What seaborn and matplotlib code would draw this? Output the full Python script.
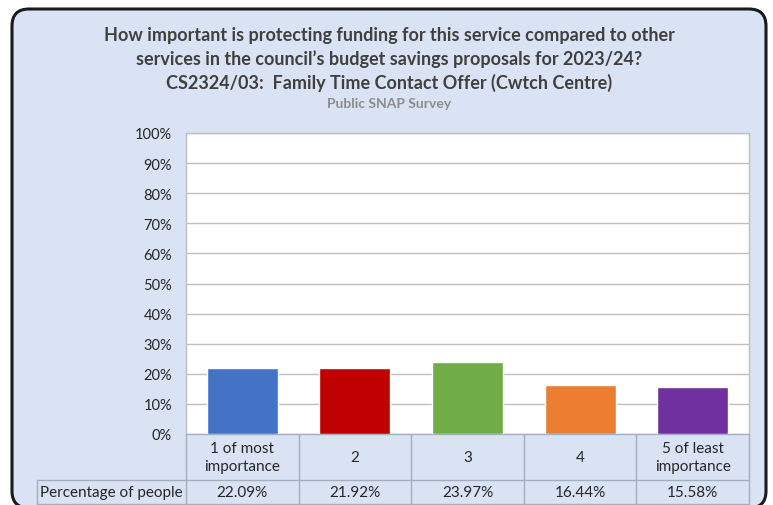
import matplotlib
matplotlib.use("Agg")
import matplotlib.pyplot as plt
import seaborn as sns
import pandas as pd
from matplotlib.patches import FancyBboxPatch
from matplotlib.ticker import PercentFormatter, MultipleLocator

# data
categories = ["1 of most\nimportance", "2", "3", "4", "5 of least\nimportance"]
percentages = [22.09, 21.92, 23.97, 16.44, 15.58]
bar_colors = ["#4472C4", "#C00000", "#70AD47", "#ED7D31", "#7030A0"]
row_label = "Percentage of people"
title_lines = ["How important is protecting funding for this service compared to other",
               "services in the council\u2019s budget savings proposals for 2023/24?",
               "CS2324/03:  Family Time Contact Offer (Cwtch Centre)"]
subtitle = "Public SNAP Survey"

df = pd.DataFrame({"category": categories, "pct": percentages})

sns.set_style("white")
plt.rcParams["font.family"] = ["Lato", "DejaVu Sans"]

W, H = 773, 506
fig = plt.figure(figsize=(W / 100, H / 100), dpi=100, facecolor="white")

bg = "#DAE3F3"
grid_c = "#BFBFBF"
table_c = "#A5AEBD"
text_c = "#404040"

def fx(x):
    return x / W

def fy(y):
    return 1 - y / H

# rounded chart frame
frame = FancyBboxPatch((fx(12), fy(509)), fx(766) - fx(12), fy(10) - fy(509),
                       boxstyle="round,pad=0,rounding_size=0.022",
                       mutation_aspect=W / H,
                       transform=fig.transFigure, facecolor=bg,
                       edgecolor="#1a1a1a", linewidth=2.2, zorder=-5)
fig.patches.append(frame)

# titles
for i, line in enumerate(title_lines):
    fig.text(fx(389), fy(35.5 + i * 23.5), line, ha="center", va="center",
             fontsize=13, fontweight="bold", color=text_c)
fig.text(fx(389), fy(104), subtitle, ha="center", va="center",
         fontsize=10, fontweight="bold", color="#8C8C8C")

left, right, top, bottom = 186, 749, 134, 435
ax = fig.add_axes([fx(left), fy(bottom), fx(right) - fx(left), fy(top) - fy(bottom)])
ax.set_zorder(2)
ax.set_facecolor("white")

sns.barplot(data=df, x="category", y="pct", hue="category", palette=bar_colors,
            legend=False, width=0.63, ax=ax, saturation=1, zorder=3)

ax.set_ylim(0, 100)
ax.set_xlim(-0.5, len(categories) - 0.5)
ax.yaxis.set_major_locator(MultipleLocator(10))
ax.yaxis.set_major_formatter(PercentFormatter(decimals=0))
ax.grid(axis="y", color=grid_c, linewidth=1.0, zorder=0)
ax.set_axisbelow(True)
for s in ax.spines.values():
    s.set_color(grid_c)
    s.set_linewidth(1.0)
ax.spines["bottom"].set_color(table_c)
ax.set_xticks([])
ax.set_xlabel("")
ax.set_ylabel("")
ax.tick_params(axis="y", length=0, pad=10, labelsize=10.5, labelcolor="#262626")

# data table under the plot
ah = bottom - top
r1 = -(481 - bottom) / ah
r2 = -(505 - bottom) / ah
tr = ax.get_xaxis_transform()
lk = dict(color=table_c, linewidth=1.0, clip_on=False, transform=tr)
n = len(categories)
for i in range(n + 1):
    ax.plot([i - 0.5, i - 0.5], [0, r2], **lk)
ax.plot([-0.5, n - 0.5], [r1, r1], **lk)
ax.plot([-0.5, n - 0.5], [r2, r2], **lk)
# label cell on the left
lab_x0 = -0.5 - (left - 37) / ((right - left) / n)
ax.plot([lab_x0, -0.5], [r1, r1], **lk)
ax.plot([lab_x0, -0.5], [r2, r2], **lk)
ax.plot([lab_x0, lab_x0], [r1, r2], **lk)

for i, (cat, val) in enumerate(zip(categories, percentages)):
    ax.text(i, r1 / 2, cat, ha="center", va="center", transform=tr,
            fontsize=11, color="#262626", linespacing=1.45)
    ax.text(i, (r1 + r2) / 2, f"{val:.2f}%", ha="center", va="center",
            transform=tr, fontsize=11, color="#262626")
ax.text((lab_x0 + -0.5) / 2, (r1 + r2) / 2, row_label, ha="center", va="center",
        transform=tr, fontsize=11, color="#262626")

fig.savefig("out.png", dpi=100, facecolor="white")
